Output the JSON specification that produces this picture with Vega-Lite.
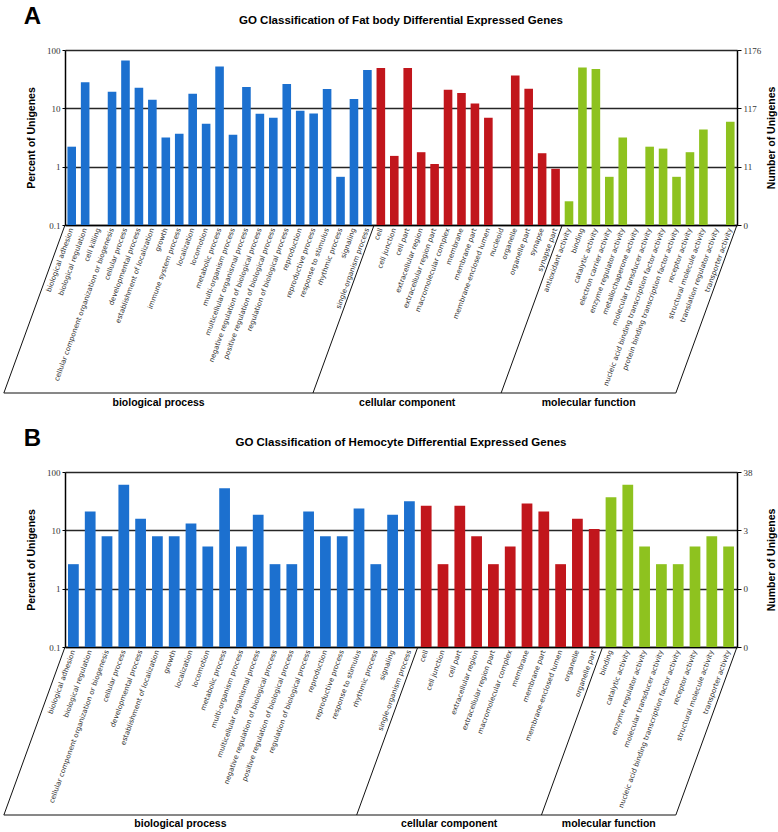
{
  "$schema": "https://vega.github.io/schema/vega-lite/v6.json",
  "background": "white",
  "padding": {"left": 1, "right": 0, "top": 4, "bottom": 0},
  "config": {
    "view": {"stroke": null},
    "font": "Liberation Sans",
    "concat": {"spacing": 17}
  },
  "datasets": {
    "fat": [
      {"cat": "biological adhesion", "group": "biological process", "pct": 2.2},
      {"cat": "biological regulation", "group": "biological process", "pct": 27.9},
      {"cat": "cell killing", "group": "biological process", "pct": null},
      {"cat": "cellular component organization or biogenesis", "group": "biological process", "pct": 19.3},
      {"cat": "cellular process", "group": "biological process", "pct": 65.9},
      {"cat": "developmental process", "group": "biological process", "pct": 22.6},
      {"cat": "establishment of localization", "group": "biological process", "pct": 14.0},
      {"cat": "growth", "group": "biological process", "pct": 3.16},
      {"cat": "immune system process", "group": "biological process", "pct": 3.65},
      {"cat": "localization", "group": "biological process", "pct": 17.8},
      {"cat": "locomotion", "group": "biological process", "pct": 5.42},
      {"cat": "metabolic process", "group": "biological process", "pct": 51.9},
      {"cat": "multi-organism process", "group": "biological process", "pct": 3.51},
      {"cat": "multicellular organismal process", "group": "biological process", "pct": 23.2},
      {"cat": "negative regulation of biological process", "group": "biological process", "pct": 8.06},
      {"cat": "positive regulation of biological process", "group": "biological process", "pct": 6.88},
      {"cat": "regulation of biological process", "group": "biological process", "pct": 26.1},
      {"cat": "reproduction", "group": "biological process", "pct": 9.08},
      {"cat": "reproductive process", "group": "biological process", "pct": 8.17},
      {"cat": "response to stimulus", "group": "biological process", "pct": 21.4},
      {"cat": "rhythmic process", "group": "biological process", "pct": 0.67},
      {"cat": "signaling", "group": "biological process", "pct": 14.4},
      {"cat": "single-organism process", "group": "biological process", "pct": 45.5},
      {"cat": "cell", "group": "cellular component", "pct": 49.3},
      {"cat": "cell junction", "group": "cellular component", "pct": 1.53},
      {"cat": "cell part", "group": "cellular component", "pct": 49.3},
      {"cat": "extracellular region", "group": "cellular component", "pct": 1.77},
      {"cat": "extracellular region part", "group": "cellular component", "pct": 1.11},
      {"cat": "macromolecular complex", "group": "cellular component", "pct": 20.9},
      {"cat": "membrane", "group": "cellular component", "pct": 18.3},
      {"cat": "membrane part", "group": "cellular component", "pct": 12.1},
      {"cat": "membrane-enclosed lumen", "group": "cellular component", "pct": 6.88},
      {"cat": "nucleoid", "group": "cellular component", "pct": null},
      {"cat": "organelle", "group": "cellular component", "pct": 36.4},
      {"cat": "organelle part", "group": "cellular component", "pct": 21.7},
      {"cat": "synapse", "group": "cellular component", "pct": 1.7},
      {"cat": "synapse part", "group": "cellular component", "pct": 0.92},
      {"cat": "antioxidant activity", "group": "molecular function", "pct": 0.255},
      {"cat": "binding", "group": "molecular function", "pct": 49.9},
      {"cat": "catalytic activity", "group": "molecular function", "pct": 47.3},
      {"cat": "electron carrier activity", "group": "molecular function", "pct": 0.67},
      {"cat": "enzyme regulator activity", "group": "molecular function", "pct": 3.16},
      {"cat": "metallochaperone activity", "group": "molecular function", "pct": null},
      {"cat": "molecular transducer activity", "group": "molecular function", "pct": 2.2},
      {"cat": "nucleic acid binding transcription factor activity", "group": "molecular function", "pct": 2.04},
      {"cat": "protein binding transcription factor activity", "group": "molecular function", "pct": 0.67},
      {"cat": "receptor activity", "group": "molecular function", "pct": 1.77},
      {"cat": "structural molecule activity", "group": "molecular function", "pct": 4.33},
      {"cat": "translation regulator activity", "group": "molecular function", "pct": null},
      {"cat": "transporter activity", "group": "molecular function", "pct": 5.87}
    ],
    "hemo": [
      {"cat": "biological adhesion", "group": "biological process", "pct": 2.63},
      {"cat": "biological regulation", "group": "biological process", "pct": 21.05},
      {"cat": "cellular component organization or biogenesis", "group": "biological process", "pct": 7.89},
      {"cat": "cellular process", "group": "biological process", "pct": 60.53},
      {"cat": "developmental process", "group": "biological process", "pct": 15.79},
      {"cat": "establishment of localization", "group": "biological process", "pct": 7.89},
      {"cat": "growth", "group": "biological process", "pct": 7.89},
      {"cat": "localization", "group": "biological process", "pct": 13.16},
      {"cat": "locomotion", "group": "biological process", "pct": 5.26},
      {"cat": "metabolic process", "group": "biological process", "pct": 52.63},
      {"cat": "multi-organism process", "group": "biological process", "pct": 5.26},
      {"cat": "multicellular organismal process", "group": "biological process", "pct": 18.42},
      {"cat": "negative regulation of biological process", "group": "biological process", "pct": 2.63},
      {"cat": "positive regulation of biological process", "group": "biological process", "pct": 2.63},
      {"cat": "regulation of biological process", "group": "biological process", "pct": 21.05},
      {"cat": "reproduction", "group": "biological process", "pct": 7.89},
      {"cat": "reproductive process", "group": "biological process", "pct": 7.89},
      {"cat": "response to stimulus", "group": "biological process", "pct": 23.68},
      {"cat": "rhythmic process", "group": "biological process", "pct": 2.63},
      {"cat": "signaling", "group": "biological process", "pct": 18.42},
      {"cat": "single-organism process", "group": "biological process", "pct": 31.58},
      {"cat": "cell", "group": "cellular component", "pct": 26.32},
      {"cat": "cell junction", "group": "cellular component", "pct": 2.63},
      {"cat": "cell part", "group": "cellular component", "pct": 26.32},
      {"cat": "extracellular region", "group": "cellular component", "pct": 7.89},
      {"cat": "extracellular region part", "group": "cellular component", "pct": 2.63},
      {"cat": "macromolecular complex", "group": "cellular component", "pct": 5.26},
      {"cat": "membrane", "group": "cellular component", "pct": 28.95},
      {"cat": "membrane part", "group": "cellular component", "pct": 21.05},
      {"cat": "membrane-enclosed lumen", "group": "cellular component", "pct": 2.63},
      {"cat": "organelle", "group": "cellular component", "pct": 15.79},
      {"cat": "organelle part", "group": "cellular component", "pct": 10.53},
      {"cat": "binding", "group": "molecular function", "pct": 36.84},
      {"cat": "catalytic activity", "group": "molecular function", "pct": 60.53},
      {"cat": "enzyme regulator activity", "group": "molecular function", "pct": 5.26},
      {"cat": "molecular transducer activity", "group": "molecular function", "pct": 2.63},
      {"cat": "nucleic acid binding transcription factor activity", "group": "molecular function", "pct": 2.63},
      {"cat": "receptor activity", "group": "molecular function", "pct": 5.26},
      {"cat": "structural molecule activity", "group": "molecular function", "pct": 7.89},
      {"cat": "transporter activity", "group": "molecular function", "pct": 5.26}
    ],
    "lines": [{"v": 1}, {"v": 10}, {"v": 100}]
  },
  "vconcat": [
    {
      "title": {"text": "A", "anchor": "start", "frame": "bounds", "fontSize": 24, "fontWeight": "bold", "font": "Liberation Sans", "color": "#000", "offset": -14, "dx": 22},
      "vconcat": [
        {
          "width": 672,
          "height": 175,
          "title": {"text": "GO Classification of Fat body Differential Expressed Genes", "anchor": "middle", "frame": "group", "fontSize": 11.5, "fontWeight": "bold", "font": "Liberation Sans", "color": "#000", "offset": 20},
          "resolve": {"axis": {"y": "independent"}},
          "layer": [
            {
              "data": {"name": "fat"},
              "mark": {"type": "bar", "invalid": "show"},
              "encoding": {
                "x": {"field": "cat", "type": "nominal", "sort": null, "scale": {"paddingInner": 0.36, "paddingOuter": 0.18},
                  "axis": {"title": null, "labelAngle": -70, "labelFont": "DejaVu Sans", "labelFontSize": 7, "labelColor": "#333", "labelPadding": 3, "ticks": false, "domainColor": "#000", "domainWidth": 1.5, "labelOverlap": false, "labelLimit": 400}},
                "y": {"field": "pct", "type": "quantitative", "stack": null, "scale": {"type": "log", "domain": [0.1, 100], "nice": false},
                  "axis": {"orient": "left", "title": "Percent of Unigenes", "values": [0.1, 1, 10, 100], "format": "~g",
                    "grid": true, "gridColor": "#262626", "gridWidth": 1.6, "tickSize": 3, "tickColor": "#000", "domainColor": "#000", "domainWidth": 1.5,
                    "labelFont": "Liberation Serif", "labelFontSize": 9, "labelColor": "#333", "labelPadding": 2,
                    "titleFont": "Liberation Sans", "titleFontSize": 10.5, "titleFontWeight": "bold", "titleColor": "#000", "titlePadding": 10}},
                "color": {"field": "group", "type": "nominal", "legend": null,
                  "scale": {"domain": ["biological process", "cellular component", "molecular function"], "range": ["#1c70cf", "#c1161c", "#8ec21f"]}}
              }
            },
            {
              "data": {"name": "lines"},
              "mark": {"type": "rule", "color": "#262626", "strokeWidth": 1.6, "opacity": 0},
              "encoding": {
                "y": {"field": "v", "type": "quantitative", "scale": {"type": "log", "domain": [0.1, 100], "nice": false},
                  "axis": {"orient": "right", "title": "Number of Unigenes", "titleAngle": -90, "values": [0.1, 1, 10, 100],
                    "labelExpr": "datum.value > 50 ? '1176' : datum.value > 5 ? '117' : datum.value > 0.5 ? '11' : '0'",
                    "grid": false, "tickSize": 4, "tickColor": "#000", "domainColor": "#000", "domainWidth": 1.5,
                    "labelFont": "Liberation Serif", "labelFontSize": 9, "labelColor": "#333", "labelPadding": 2,
                    "titleFont": "Liberation Sans", "titleFontSize": 10.5, "titleFontWeight": "bold", "titleColor": "#000", "titlePadding": 16}}
              }
            },
            {
              "data": {"values": [{"cat": "biological adhesion", "edge": "start"}, {"cat": "cell", "edge": "start"}, {"cat": "antioxidant activity", "edge": "start"}]},
              "mark": {"type": "point", "shape": "M0,0L-0.364,1", "size": 112896, "filled": false, "stroke": "#111", "strokeWidth": 1, "opacity": 1},
              "encoding": {
                "x": {"field": "cat", "type": "nominal", "sort": null, "bandPosition": -0.28},
                "y": {"datum": 0.1, "type": "quantitative", "scale": {"type": "log", "domain": [0.1, 100], "nice": false}, "axis": null}
              }
            },
            {
              "data": {"values": [{"cat": "transporter activity", "edge": "end", "panel": "fat body"}]},
              "mark": {"type": "point", "shape": "M0,0L-0.364,1L-4.364,1", "size": 112896, "filled": false, "stroke": "#111", "strokeWidth": 1, "opacity": 1},
              "encoding": {
                "x": {"field": "cat", "type": "nominal", "sort": null, "bandPosition": 1.28},
                "y": {"datum": 0.1, "type": "quantitative", "scale": {"type": "log", "domain": [0.1, 100], "nice": false}, "axis": null}
              }
            },
            {
              "data": {"values": [{"label": "biological process", "cat": "metabolic process"}, {"label": "molecular function", "cat": "molecular transducer activity"}]},
              "mark": {"type": "text", "dx": -61, "dy": 178, "font": "Liberation Sans", "fontWeight": "bold", "fontSize": 10.5, "align": "center", "baseline": "middle", "color": "#000"},
              "encoding": {
                "x": {"field": "cat", "type": "nominal", "sort": null, "bandPosition": 0.5},
                "y": {"datum": 0.1, "type": "quantitative", "scale": {"type": "log", "domain": [0.1, 100], "nice": false}, "axis": null},
                "text": {"field": "label"}
              }
            },
            {
              "data": {"values": [{"label": "cellular component", "cat": "membrane part"}]},
              "mark": {"type": "text", "dx": -61, "dy": 178, "font": "Liberation Sans", "fontWeight": "bold", "fontSize": 10.5, "align": "center", "baseline": "middle", "color": "#000"},
              "encoding": {
                "x": {"field": "cat", "type": "nominal", "sort": null, "bandPosition": -0.28},
                "y": {"datum": 0.1, "type": "quantitative", "scale": {"type": "log", "domain": [0.1, 100], "nice": false}, "axis": null},
                "text": {"field": "label"}
              }
            }
          ]
        }
      ]
    },
    {
      "title": {"text": "B", "anchor": "start", "frame": "bounds", "fontSize": 24, "fontWeight": "bold", "font": "Liberation Sans", "color": "#000", "offset": -14, "dx": 22},
      "vconcat": [
        {
          "width": 672,
          "height": 175,
          "title": {"text": "GO Classification of Hemocyte Differential Expressed Genes", "anchor": "middle", "frame": "group", "fontSize": 11.5, "fontWeight": "bold", "font": "Liberation Sans", "color": "#000", "offset": 20},
          "resolve": {"axis": {"y": "independent"}},
          "layer": [
            {
              "data": {"name": "hemo"},
              "mark": {"type": "bar"},
              "encoding": {
                "x": {"field": "cat", "type": "nominal", "sort": null, "scale": {"paddingInner": 0.36, "paddingOuter": 0.18},
                  "axis": {"title": null, "labelAngle": -70, "labelFont": "DejaVu Sans", "labelFontSize": 7, "labelColor": "#333", "labelPadding": 3, "ticks": false, "domainColor": "#000", "domainWidth": 1.5, "labelOverlap": false, "labelLimit": 400}},
                "y": {"field": "pct", "type": "quantitative", "stack": null, "scale": {"type": "log", "domain": [0.1, 100], "nice": false},
                  "axis": {"orient": "left", "title": "Percent of Unigenes", "values": [0.1, 1, 10, 100], "format": "~g",
                    "grid": true, "gridColor": "#262626", "gridWidth": 1.6, "tickSize": 3, "tickColor": "#000", "domainColor": "#000", "domainWidth": 1.5,
                    "labelFont": "Liberation Serif", "labelFontSize": 9, "labelColor": "#333", "labelPadding": 2,
                    "titleFont": "Liberation Sans", "titleFontSize": 10.5, "titleFontWeight": "bold", "titleColor": "#000", "titlePadding": 10}},
                "color": {"field": "group", "type": "nominal", "legend": null,
                  "scale": {"domain": ["biological process", "cellular component", "molecular function"], "range": ["#1c70cf", "#c1161c", "#8ec21f"]}}
              }
            },
            {
              "data": {"name": "lines"},
              "mark": {"type": "rule", "color": "#262626", "strokeWidth": 1.6, "opacity": 0},
              "encoding": {
                "y": {"field": "v", "type": "quantitative", "scale": {"type": "log", "domain": [0.1, 100], "nice": false},
                  "axis": {"orient": "right", "title": "Number of Unigenes", "titleAngle": -90, "values": [0.1, 1, 10, 100],
                    "labelExpr": "datum.value > 50 ? '38' : datum.value > 5 ? '3' : '0'",
                    "grid": false, "tickSize": 4, "tickColor": "#000", "domainColor": "#000", "domainWidth": 1.5,
                    "labelFont": "Liberation Serif", "labelFontSize": 9, "labelColor": "#333", "labelPadding": 2,
                    "titleFont": "Liberation Sans", "titleFontSize": 10.5, "titleFontWeight": "bold", "titleColor": "#000", "titlePadding": 24}}
              }
            },
            {
              "data": {"values": [{"cat": "biological adhesion", "edge": "start", "panel": "hemocyte"}, {"cat": "cell", "edge": "start", "panel": "hemocyte"}, {"cat": "binding", "edge": "start", "panel": "hemocyte"}]},
              "mark": {"type": "point", "shape": "M0,0L-0.364,1", "size": 112896, "filled": false, "stroke": "#111", "strokeWidth": 1, "opacity": 1},
              "encoding": {
                "x": {"field": "cat", "type": "nominal", "sort": null, "bandPosition": -0.28},
                "y": {"datum": 0.1, "type": "quantitative", "scale": {"type": "log", "domain": [0.1, 100], "nice": false}, "axis": null}
              }
            },
            {
              "data": {"values": [{"cat": "transporter activity", "edge": "end", "panel": "hemocyte"}]},
              "mark": {"type": "point", "shape": "M0,0L-0.364,1L-4.364,1", "size": 112896, "filled": false, "stroke": "#111", "strokeWidth": 1, "opacity": 1},
              "encoding": {
                "x": {"field": "cat", "type": "nominal", "sort": null, "bandPosition": 1.28},
                "y": {"datum": 0.1, "type": "quantitative", "scale": {"type": "log", "domain": [0.1, 100], "nice": false}, "axis": null}
              }
            },
            {
              "data": {"values": [{"label": "biological process", "cat": "multi-organism process"}, {"label": "cellular component", "cat": "macromolecular complex"}]},
              "mark": {"type": "text", "dx": -61, "dy": 177, "font": "Liberation Sans", "fontWeight": "bold", "fontSize": 10.5, "align": "center", "baseline": "middle", "color": "#000"},
              "encoding": {
                "x": {"field": "cat", "type": "nominal", "sort": null, "bandPosition": 0.5},
                "y": {"datum": 0.1, "type": "quantitative", "scale": {"type": "log", "domain": [0.1, 100], "nice": false}, "axis": null},
                "text": {"field": "label"}
              }
            },
            {
              "data": {"values": [{"label": "molecular function", "cat": "nucleic acid binding transcription factor activity"}]},
              "mark": {"type": "text", "dx": -61, "dy": 177, "font": "Liberation Sans", "fontWeight": "bold", "fontSize": 10.5, "align": "center", "baseline": "middle", "color": "#000"},
              "encoding": {
                "x": {"field": "cat", "type": "nominal", "sort": null, "bandPosition": -0.28},
                "y": {"datum": 0.1, "type": "quantitative", "scale": {"type": "log", "domain": [0.1, 100], "nice": false}, "axis": null},
                "text": {"field": "label"}
              }
            }
          ]
        }
      ]
    }
  ]
}
